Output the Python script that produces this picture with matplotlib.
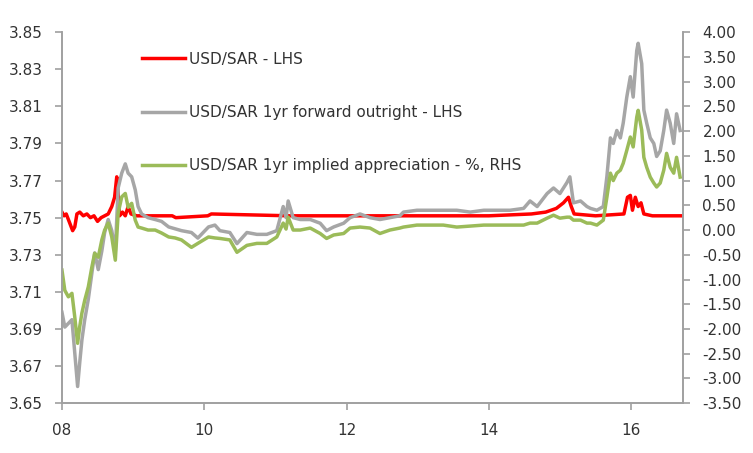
import matplotlib
matplotlib.use("Agg")
import matplotlib.pyplot as plt
from matplotlib.ticker import FormatStrFormatter

plt.rcParams["font.family"] = ["DejaVu Sans"]
plt.rcParams["axes.unicode_minus"] = False

# USD/SAR spot (LHS), time in decimal years
spot_t = [2008.00, 2008.03, 2008.06, 2008.09, 2008.12, 2008.15, 2008.18, 2008.21,
          2008.25, 2008.30, 2008.35, 2008.40, 2008.45, 2008.50, 2008.55, 2008.60,
          2008.65, 2008.70, 2008.74, 2008.77, 2008.79, 2008.81, 2008.85, 2008.89,
          2008.93, 2008.97, 2009.05, 2009.55, 2009.60, 2010.05, 2010.10, 2011.20,
          2012.00, 2013.00, 2014.00, 2014.60, 2014.80, 2014.95, 2015.05, 2015.12,
          2015.16, 2015.20, 2015.50, 2015.90, 2015.95, 2015.99, 2016.02, 2016.06,
          2016.10, 2016.14, 2016.18, 2016.30, 2016.71]
spot = [3.753, 3.751, 3.752, 3.749, 3.746, 3.743, 3.745, 3.752,
        3.753, 3.751, 3.752, 3.750, 3.751, 3.748, 3.750, 3.751,
        3.752, 3.756, 3.761, 3.772, 3.762, 3.751, 3.753, 3.751,
        3.756, 3.752, 3.751, 3.751, 3.750, 3.751, 3.752, 3.751,
        3.751, 3.751, 3.751, 3.752, 3.753, 3.755, 3.758, 3.761,
        3.756, 3.752, 3.751, 3.752, 3.761, 3.762, 3.754, 3.761,
        3.756, 3.758, 3.752, 3.751, 3.751]

# 1yr forward outright (LHS) and implied appreciation % (RHS), same dates
fwd_t = [2008.00, 2008.04, 2008.09, 2008.14, 2008.18, 2008.22, 2008.25, 2008.28,
         2008.32, 2008.37, 2008.42, 2008.46, 2008.51, 2008.56, 2008.60, 2008.65,
         2008.70, 2008.75, 2008.79, 2008.84, 2008.89, 2008.93, 2008.98, 2009.03,
         2009.07, 2009.12, 2009.21, 2009.31, 2009.40, 2009.50, 2009.59, 2009.68,
         2009.82, 2009.91, 2010.06, 2010.15, 2010.22, 2010.36, 2010.46, 2010.60,
         2010.74, 2010.88, 2011.02, 2011.11, 2011.15, 2011.18, 2011.25, 2011.35,
         2011.49, 2011.63, 2011.72, 2011.82, 2011.96, 2012.05, 2012.19, 2012.33,
         2012.47, 2012.61, 2012.75, 2012.80, 2012.99, 2013.18, 2013.36, 2013.55,
         2013.74, 2013.93, 2014.11, 2014.30, 2014.49, 2014.58, 2014.68, 2014.82,
         2014.91, 2015.00, 2015.10, 2015.14, 2015.19, 2015.29, 2015.38, 2015.43,
         2015.52, 2015.61, 2015.66, 2015.71, 2015.75, 2015.80, 2015.85, 2015.89,
         2015.94, 2015.99, 2016.03, 2016.08, 2016.10, 2016.15, 2016.18, 2016.22,
         2016.27, 2016.32, 2016.36, 2016.41, 2016.46, 2016.50, 2016.55, 2016.60,
         2016.64, 2016.69]
fwd = [3.699, 3.691, 3.693, 3.695, 3.677, 3.659, 3.672, 3.684,
       3.695, 3.706, 3.720, 3.731, 3.722, 3.732, 3.742, 3.749,
       3.743, 3.732, 3.766, 3.774, 3.779, 3.774, 3.772, 3.765,
       3.756, 3.752, 3.750, 3.749, 3.748, 3.745, 3.744, 3.743,
       3.742, 3.739, 3.745, 3.746, 3.743, 3.742, 3.736, 3.742,
       3.741, 3.741, 3.743, 3.756, 3.750, 3.759, 3.750, 3.749,
       3.749, 3.747, 3.743, 3.745, 3.747, 3.750, 3.752, 3.750,
       3.749, 3.750, 3.751, 3.753, 3.754, 3.754, 3.754, 3.754,
       3.753, 3.754, 3.754, 3.754, 3.755, 3.759, 3.756, 3.763,
       3.766, 3.763, 3.769, 3.772, 3.758, 3.759, 3.756, 3.755,
       3.754, 3.756, 3.772, 3.793, 3.790, 3.797, 3.793, 3.801,
       3.815, 3.826, 3.815, 3.840, 3.844, 3.833, 3.808, 3.801,
       3.793, 3.790, 3.783, 3.786, 3.797, 3.808, 3.801, 3.790,
       3.806, 3.797]
appr = [-0.81, -1.22, -1.35, -1.28, -1.76, -2.29, -1.95, -1.68,
        -1.42, -1.15, -0.75, -0.47, -0.55, -0.20, 0.00, 0.14,
        -0.14, -0.61, 0.34, 0.67, 0.74, 0.46, 0.54, 0.20,
        0.06, 0.04, 0.00, 0.00, -0.06, -0.14, -0.16, -0.20,
        -0.35, -0.27, -0.14, -0.16, -0.17, -0.20, -0.45, -0.31,
        -0.27, -0.27, -0.14, 0.14, 0.02, 0.26, 0.00, 0.00,
        0.04, -0.07, -0.17, -0.10, -0.07, 0.04, 0.06, 0.04,
        -0.07, 0.00, 0.04, 0.06, 0.10, 0.10, 0.10, 0.06,
        0.08, 0.10, 0.10, 0.10, 0.10, 0.14, 0.14, 0.24,
        0.30, 0.24, 0.26, 0.26, 0.20, 0.20, 0.14, 0.14,
        0.10, 0.20, 0.66, 1.15, 1.00, 1.15, 1.21, 1.35,
        1.61, 1.88, 1.68, 2.28, 2.42, 2.02, 1.47, 1.27,
        1.07, 0.95, 0.87, 0.95, 1.21, 1.55, 1.27, 1.15,
        1.47, 1.07]

year_ticks = [2008, 2010, 2012, 2014, 2016]
year_labels = ["08", "10", "12", "14", "16"]
left_ticks = [3.65 + 0.02 * i for i in range(11)]
right_ticks = [-3.5 + 0.5 * i for i in range(16)]

red = "#FF0000"
grey = "#A6A6A6"
green = "#9BBB59"
axis_col = "#A0A0A0"
text_col = "#333333"

fig = plt.figure(figsize=(7.53, 4.53), dpi=100)
ax = fig.add_axes([0.0823, 0.110, 0.8247, 0.819])
ax2 = ax.twinx()

l1, = ax.plot(spot_t, spot, color=red, lw=2.5, label="USD/SAR - LHS")
l2, = ax.plot(fwd_t, fwd, color=grey, lw=2.5, label="USD/SAR 1yr forward outright - LHS")
l3, = ax2.plot(fwd_t, appr, color=green, lw=2.5,
               label="USD/SAR 1yr implied appreciation - %, RHS")

ax.set_xlim(2008, 2016.73)
ax.set_ylim(3.65, 3.85)
ax2.set_ylim(-3.5, 4.0)
ax.set_xticks(year_ticks)
ax.set_xticklabels(year_labels)
ax.set_yticks(left_ticks)
ax2.set_yticks(right_ticks)
ax.yaxis.set_major_formatter(FormatStrFormatter("%.2f"))
ax2.yaxis.set_major_formatter(FormatStrFormatter("%.2f"))

for a in (ax, ax2):
    a.spines["top"].set_visible(False)
    for s in ("left", "right", "bottom"):
        a.spines[s].set_color(axis_col)
        a.spines[s].set_linewidth(1.2)
    a.tick_params(colors=axis_col, labelcolor=text_col, labelsize=11,
                  length=5, width=1.2, direction="out", pad=9)

ax2.legend(handles=[l1, l2, l3], loc="upper left", bbox_to_anchor=(0.129, 0.947),
           frameon=False, fontsize=11, labelcolor=text_col, handlelength=2.8,
           handletextpad=0.3, labelspacing=2.5, borderpad=0, borderaxespad=0)

fig.savefig("out.png", dpi=100)
